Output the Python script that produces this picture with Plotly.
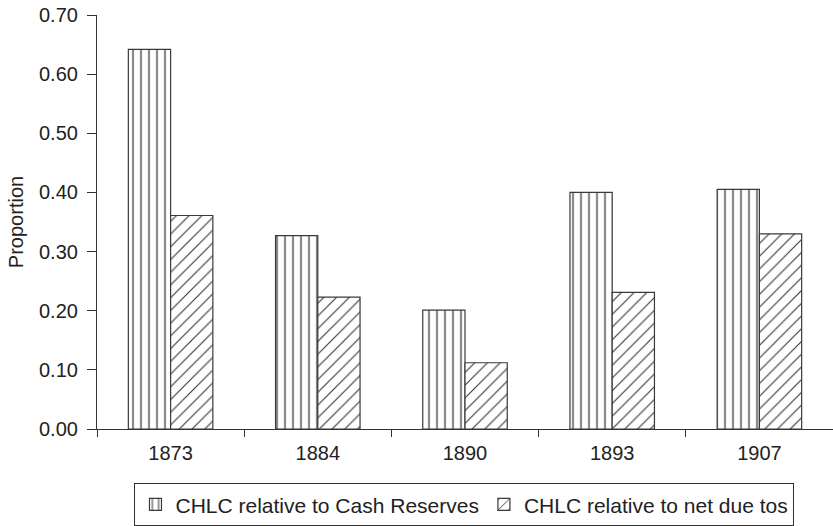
import plotly.graph_objects as go

# Clearing-house loan certificates (CHLC) relative to bank balances, by panic year
years = ["1873", "1884", "1890", "1893", "1907"]
chlc_cash_reserves = [0.642, 0.327, 0.201, 0.400, 0.405]
chlc_net_due_tos = [0.361, 0.223, 0.112, 0.231, 0.330]
y_ticks = [0.0, 0.1, 0.2, 0.3, 0.4, 0.5, 0.6, 0.7]

FONT = "Liberation Sans, Arial, sans-serif"
INK = "#222222"
EDGE = "#3a3a3a"

fig = go.Figure()
fig.add_trace(go.Bar(
    x=years, y=chlc_cash_reserves,
    name="CHLC relative to Cash Reserves",
    marker=dict(
        color="white",
        line=dict(color=EDGE, width=1.2),
        pattern=dict(shape="|", fgcolor="#8c8c8c", bgcolor="white",
                     size=8, solidity=0.28, fillmode="replace"),
    ),
))
fig.add_trace(go.Bar(
    x=years, y=chlc_net_due_tos,
    name="CHLC relative to net due tos",
    marker=dict(
        color="white",
        line=dict(color=EDGE, width=1.2),
        pattern=dict(shape="/", fgcolor="#333333", bgcolor="white",
                     size=9, solidity=0.12, fillmode="replace"),
    ),
))

fig.update_layout(
    width=833, height=526,
    margin=dict(l=97, r=0, t=15, b=97),
    paper_bgcolor="white", plot_bgcolor="white",
    barmode="group", bargap=0.426, bargroupgap=0,
    font=dict(family=FONT, size=20, color=INK),
    showlegend=True,
    legend=dict(
        orientation="h",
        x=0.499, xanchor="center",
        y=-0.131, yanchor="top",
        font=dict(family=FONT, size=21, color=INK),
        bordercolor="#333333", borderwidth=1.2,
        bgcolor="white",
        itemwidth=30,
    ),
)

fig.update_xaxes(
    type="category", range=[-0.5, 4.5],
    showline=True, linecolor="#333333", linewidth=1.2,
    ticks="outside", tickson="boundaries", ticklen=7,
    tickcolor="#333333", tickwidth=1.2,
    showgrid=False, zeroline=False,
    tickfont=dict(family=FONT, size=20, color=INK),
    ticklabelstandoff=6,
)
fig.update_yaxes(
    range=[0, 0.7], tickvals=y_ticks, tickformat=".2f",
    showline=True, linecolor="#333333", linewidth=1.2,
    ticks="outside", ticklen=9, tickcolor="#333333", tickwidth=1.2,
    showgrid=False, zeroline=False,
    tickfont=dict(family=FONT, size=20, color=INK),
    ticklabelstandoff=5,
    title=dict(text="Proportion", standoff=9,
               font=dict(family=FONT, size=20, color=INK)),
)

fig.write_html("out.html")
